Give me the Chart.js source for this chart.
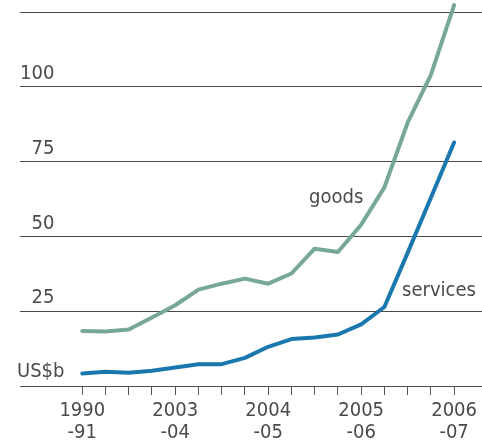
<!DOCTYPE html>
<html lang="en">
<head>
<meta charset="UTF-8">
<title>Goods and services exports</title>
<script src="https://cdn.jsdelivr.net/npm/chart.js"></script>
<style>
    * { margin: 0; padding: 0; box-sizing: border-box; }
    body { background: #fff; }
    .wrap { width: 482px; height: 444px; position: relative; }
</style>
</head>
<body>
<div class="wrap"><canvas id="trade"></canvas></div>
<script>
    // quarterly points, labelled once a year
    const periods = [
        ['1990', '-91'], '', '', '',
        ['2003', '-04'], '', '', '',
        ['2004', '-05'], '', '', '',
        ['2005', '-06'], '', '', '',
        ['2006', '-07']
    ];
    const goods = [18.4, 18.2, 18.9, 22.9, 27.0, 32.2, 34.2, 35.9, 34.2, 37.6, 45.9, 44.8, 53.9, 66.4, 88.0, 104.0, 127.3];
    const services = [4.2, 4.8, 4.4, 5.1, 6.2, 7.3, 7.3, 9.4, 13.1, 15.7, 16.2, 17.2, 20.6, 26.4, 44.5, 62.9, 81.4];
    const yTicks = [0, 25, 50, 75, 100, 125];
    const yTickLabels = ['', '25', '50', '75', '100', ''];
    const unitLabel = 'US$b';

    const FONT = "'DejaVu Sans Condensed', 'DejaVu Sans', sans-serif";
    const TEXT = '#4a4a4a';
    const GOODS_COLOR = '#76a893';
    const SERVICES_COLOR = '#1a78ae';

    // series names + unit label sit inside the plot
    const annotate = {
        id: 'annotate',
        afterDraw(chart) {
            const { ctx, scales: { x, y } } = chart;
            ctx.save();
            ctx.font = '20px ' + FONT;
            ctx.fillStyle = TEXT;
            ctx.textBaseline = 'alphabetic';
            ctx.textAlign = 'left';
            ctx.fillText('goods', x.getPixelForValue(9.76), y.getPixelForValue(61.3));
            ctx.fillText('services', x.getPixelForValue(13.76), y.getPixelForValue(30));
            ctx.textBaseline = 'middle';
            ctx.fillText(unitLabel, 17, y.getPixelForValue(0) - 14);
            ctx.restore();
        }
    };

    const ctx = document.getElementById('trade').getContext('2d');
    new Chart(ctx, {
        type: 'line',
        data: {
            datasets: [
                {
                    label: 'goods',
                    data: goods.map((v, i) => ({ x: i, y: v })),
                    borderColor: GOODS_COLOR,
                    borderWidth: 4,
                    borderCapStyle: 'round',
                    borderJoinStyle: 'round',
                    pointRadius: 0,
                    tension: 0,
                    clip: false
                },
                {
                    label: 'services',
                    data: services.map((v, i) => ({ x: i, y: v })),
                    borderColor: SERVICES_COLOR,
                    borderWidth: 4,
                    borderCapStyle: 'round',
                    borderJoinStyle: 'round',
                    pointRadius: 0,
                    tension: 0,
                    clip: false
                }
            ]
        },
        options: {
            responsive: true,
            maintainAspectRatio: false,
            animation: false,
            layout: { padding: { left: 20, right: 0, top: 10, bottom: 0 } },
            plugins: { legend: { display: false }, tooltip: { enabled: false } },
            scales: {
                x: {
                    type: 'linear',
                    min: -2.68,
                    max: 17.2,
                    afterBuildTicks: s => { s.ticks = periods.map((p, i) => ({ value: i })); },
                    afterFit: s => { s.height = 58; },
                    border: { display: false },
                    grid: { drawOnChartArea: false, drawTicks: true, tickLength: 9, color: '#555', lineWidth: 1 },
                    ticks: {
                        autoSkip: false,
                        maxRotation: 0,
                        padding: 5,
                        color: TEXT,
                        font: { family: FONT, size: 20, lineHeight: 1.1 },
                        callback: v => periods[v]
                    }
                },
                y: {
                    min: 0,
                    max: 125,
                    afterBuildTicks: s => { s.ticks = yTicks.map(v => ({ value: v })); },
                    border: { display: false },
                    grid: { drawTicks: false, color: '#4a4a4a', lineWidth: 1 },
                    ticks: {
                        mirror: true,
                        crossAlign: 'far',
                        padding: 0,
                        labelOffset: -13,
                        color: TEXT,
                        font: { family: FONT, size: 20 },
                        callback: (v, i) => yTickLabels[i]
                    }
                }
            }
        },
        plugins: [annotate]
    });
</script>
</body>
</html>
